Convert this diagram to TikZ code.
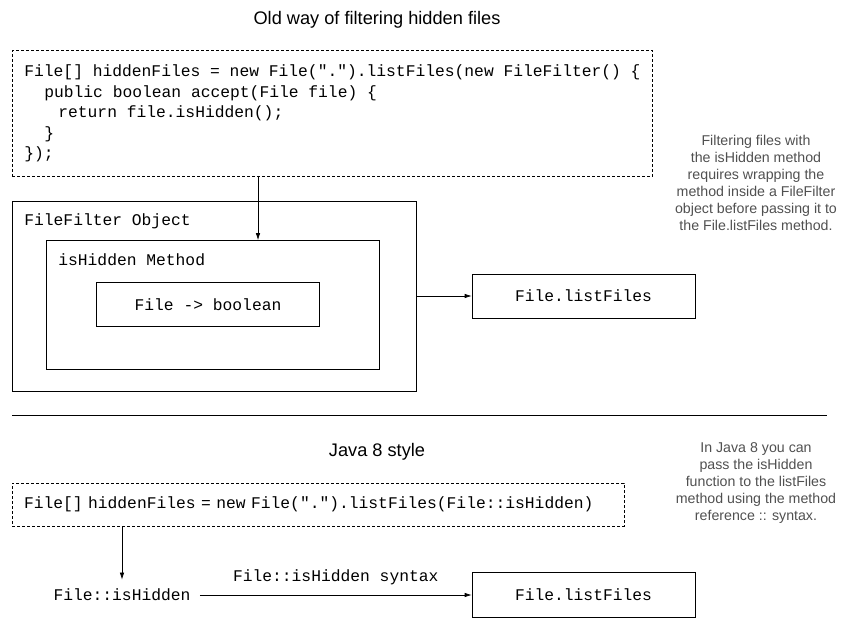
\documentclass[tikz,border=0pt]{standalone}
\usepackage{fontspec}
\setmainfont{Liberation Sans}
\setmonofont{Liberation Mono}
\usetikzlibrary{arrows.meta}
\definecolor{notegray}{HTML}{505050}

\begin{document}
\begin{tikzpicture}[x=1pt,y=-1pt,line width=0.7pt,every node/.style={font=\fontsize{16.3}{20.5}\selectfont\ttfamily,inner sep=0pt},box/.style={draw,minimum width=#1},codebox/.style={draw,dash pattern=on 3pt off 2pt,inner xsep=12pt,align=left},note/.style={font=\fontsize{14.2}{17}\selectfont,text=notegray,align=center},title/.style={font=\fontsize{18.2}{20}\selectfont},arr/.style={-{Latex[length=7pt,width=4.5pt]}}]
\useasboundingbox (0,0) rectangle (848,628);
% old way
\node[title] (t1) at (377,20) {Old way of filtering hidden files};
\node[codebox,minimum height=126,anchor=north west] (code1) at (12,50) {File[] hiddenFiles = new File(".").listFiles(new FileFilter() \{\\\hspace*{20pt}public boolean accept(File file) \{\\\hspace*{34pt}return file.isHidden();\\\hspace*{20pt}\}\\\});};
\node[box=404,minimum height=190] (obj) at (214,296.5) {};
\node[anchor=west] (objl) at (24,221) {FileFilter Object};
\node[box=333,minimum height=129] (meth) at (212.5,305) {};
\node[anchor=west] (methl) at (58,260) {isHidden Method};
\node[box=223,minimum height=44] (sig) at (208,304.5) {File -> boolean};
\node[box=223,minimum height=44] (lf1) at (583.5,296) {File.listFiles};
\coordinate (tap) at (258,176);
\draw[arr] (tap)--(tap |- meth.north);\draw[arr] (obj.east |- lf1.west)--(lf1.west);
\node[note] (n1) at (756,183) {Filtering files with\\the isHidden method\\requires wrapping the\\method inside a FileFilter\\object before passing it to\\the File.listFiles method.};
\draw (12,415)--(827,415);
% java 8
\node[title] (t2) at (377,452) {Java 8 style};
\node[codebox,text width=588,minimum height=43] (code2) at (318,504.5) {File[] hiddenFiles = new File(".").listFiles(File::isHidden)};
\node[inner sep=9pt] (ref) at (122,595) {File::isHidden};
\node[box=223,minimum height=45] (lf2) at (583.5,594.5) {File.listFiles};
\draw[arr] (code2.south -| ref.north)--(ref.north);
\draw[arr] (ref.east)--node[above=10pt] {File::isHidden syntax} (ref.east -| lf2.west);
\node[note] (n2) at (756,483) {In Java 8 you can\\pass the isHidden\\function to the listFiles\\method using the method\\reference :: syntax.};
\end{tikzpicture}
\end{document}
